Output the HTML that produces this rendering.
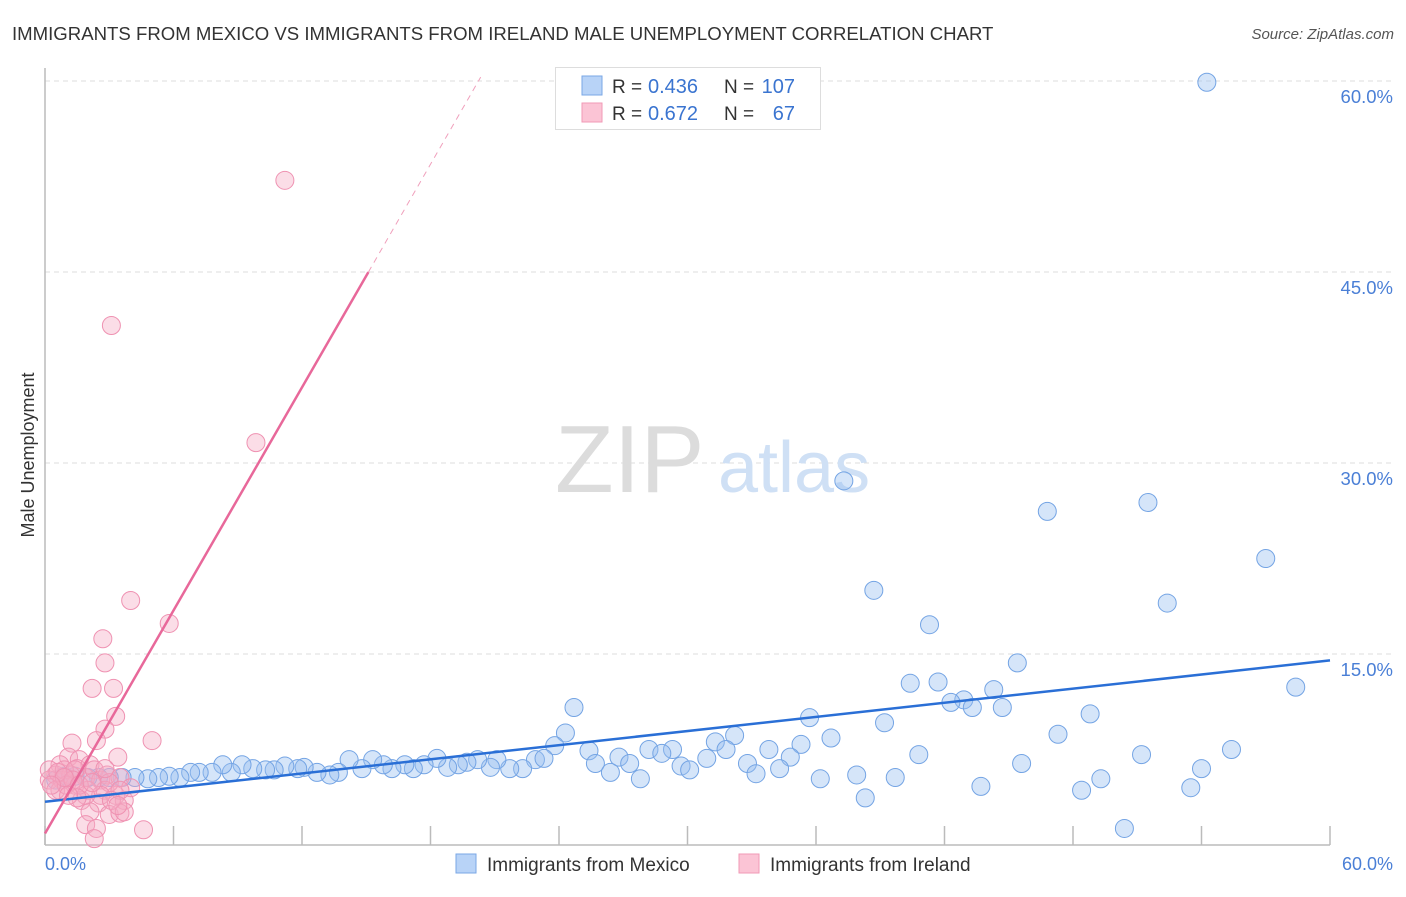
<!DOCTYPE html>
<html><head><meta charset="utf-8"><style>
body{margin:0;background:#fff;font-family:"Liberation Sans",sans-serif}
svg text{font-family:"Liberation Sans",sans-serif}
</style></head><body>
<svg id="c" width="1406" height="892">
<text x="12" y="40" font-size="18.6" fill="#333">IMMIGRANTS FROM MEXICO VS IMMIGRANTS FROM IRELAND MALE UNEMPLOYMENT CORRELATION CHART</text>
<text x="1394" y="39" font-size="15" fill="#555" font-style="italic" text-anchor="end">Source: ZipAtlas.com</text>
<g id="grid"></g>
<text x="555" y="492" font-size="96" fill="#dcdcdc" font-family="Liberation Serif">ZIP</text>
<text x="718" y="492" font-size="72" fill="#cfe0f5">atlas</text>
<g id="axes"></g>
<g id="pts"></g>
<g id="lines"></g>
<text transform="translate(34,455) rotate(-90)" font-size="18" fill="#333" text-anchor="middle">Male Unemployment</text>
<text x="45" y="870" font-size="18" fill="#4a7fd6">0.0%</text>
<text x="1393" y="870" font-size="18" fill="#4a7fd6" text-anchor="end">60.0%</text>
<g>
<rect x="555.5" y="67.5" width="265" height="62" fill="#fff" stroke="#ddd"/>
<rect x="582" y="76" width="20" height="19" fill="#b8d3f7" stroke="#7aa7e6"/>
<rect x="582" y="103" width="20" height="19" fill="#fbc4d5" stroke="#f09ab6"/>
<text x="612" y="93" font-size="19" fill="#333">R =</text>
<text x="648" y="93" font-size="20" fill="#3a74d0">0.436</text>
<text x="724" y="93" font-size="19" fill="#333">N =</text>
<text x="795" y="93" font-size="20" fill="#3a74d0" text-anchor="end">107</text>
<text x="612" y="120" font-size="19" fill="#333">R =</text>
<text x="648" y="120" font-size="20" fill="#3a74d0">0.672</text>
<text x="724" y="120" font-size="19" fill="#333">N =</text>
<text x="795" y="120" font-size="20" fill="#3a74d0" text-anchor="end">67</text>
</g>
<g>
<rect x="456" y="854" width="20" height="19" fill="#b8d3f7" stroke="#7aa7e6"/>
<text x="487" y="871" font-size="19" fill="#333">Immigrants from Mexico</text>
<rect x="739" y="854" width="20" height="19" fill="#fbc4d5" stroke="#f09ab6"/>
<text x="770" y="871" font-size="19" fill="#333">Immigrants from Ireland</text>
</g>
</svg>
<script>
const yTicks=[15,30,45,60];
const yTickLabels=["15.0%","30.0%","45.0%","60.0%"];
const xTicks=[0,6,12,18,24,30,36,42,48,54,60];
const mexicoX=[54.25,37.3,46.8,51.5,57.0,38.7,52.4,41.3,45.4,40.4,41.7,44.3,58.4,42.9,42.3,43.3,44.7,24.7,35.7,48.8,39.2,24.3,36.7,47.3,32.2,31.3,31.8,35.3,33.8,40.8,51.2,55.4,28.2,29.3,28.8,25.4,26.8,23.8,25.7,27.3,29.7,30.9,32.8,34.8,45.6,26.4,27.8,30.1,33.2,34.3,36.2,37.9,39.7,49.3,54.0,43.7,48.4,53.5,38.3,50.4,
22.9,23.3,22.3,21.7,21.1,20.8,20.2,19.7,19.3,18.8,18.3,17.7,17.2,16.8,16.2,15.8,15.3,14.8,14.2,13.7,13.3,12.7,12.1,11.8,11.2,10.7,10.3,9.7,9.2,8.7,8.3,7.8,7.2,6.8,6.3,5.8,5.3,4.8,4.2,3.6,3.0,2.5,2.0,1.4,0.9,0.5];
const mexicoY=[59.9,28.6,26.2,26.9,22.5,20.0,19.0,17.3,14.3,12.7,12.8,12.2,12.4,11.4,11.2,10.8,10.8,10.8,10.0,10.3,9.6,8.8,8.4,8.7,8.6,8.1,7.5,7.9,7.5,7.1,7.1,7.5,7.5,7.5,7.2,7.4,6.9,7.8,6.4,6.4,6.2,6.8,6.4,6.9,6.4,5.7,5.2,5.9,5.6,6.0,5.2,5.5,5.3,5.2,6.0,4.6,4.3,4.5,3.7,1.3,
6.7,6.8,6.0,6.0,6.7,6.1,6.7,6.5,6.3,6.1,6.8,6.3,6.0,6.3,6.0,6.3,6.7,6.0,6.7,5.7,5.5,5.7,6.1,6.0,6.2,5.9,5.9,6.0,6.3,5.7,6.3,5.7,5.7,5.7,5.3,5.4,5.3,5.2,5.3,5.3,5.3,5.3,5.3,5.4,5.4,5.1];
const irelandX=[11.2,3.1,9.85,4.0,5.8,2.7,2.8,2.2,3.2,3.3,2.8,2.4,5.0,1.26,3.4,
1.1,1.6,0.7,1.5,2.1,0.5,0.2,0.8,1.2,1.9,2.3,2.6,2.9,3.5,0.7,1.4,2.0,2.8,3.3,1.7,2.5,3.7,2.1,3.0,1.9,3.5,2.4,3.7,4.6,2.3,0.2,0.5,0.9,1.4,3.0,4.0,2.6,3.5,1.9,1.0,
0.6,1.3,0.9,1.6,2.2,2.8,3.1,1.5,1.1,0.3,3.4];
const irelandY=[52.2,40.8,31.6,19.2,17.4,16.2,14.3,12.3,12.3,10.1,9.1,8.2,8.2,8.0,6.9,
6.9,6.7,6.3,6.0,6.3,5.5,5.1,5.1,5.5,5.3,5.9,5.1,5.5,5.3,4.3,4.7,4.3,4.3,3.9,3.5,3.3,3.5,2.6,2.4,1.6,2.5,1.3,2.6,1.2,0.5,5.9,4.3,5.9,5.9,4.9,4.5,3.9,4.3,3.9,4.7,
5.7,5.1,5.3,4.7,4.9,6.0,3.5,3.7,3.9,4.7,3.1];
const mexicoTrend=[3.4,14.5];
const irelandTrend=[0.9,2.92];
const irelandSolidEnd=15.1;

const NS="http://www.w3.org/2000/svg";
const X0=45,X1=1330,Y0=845,YTOP=81;
const xs=v=>X0+(X1-X0)*v/60;
const ys=v=>Y0-(Y0-YTOP)*v/60;
function mk(t,a,p){const e=document.createElementNS(NS,t);for(const k in a)e.setAttribute(k,a[k]);p.appendChild(e);return e;}
const grid=document.getElementById('grid'),axes=document.getElementById('axes'),pts=document.getElementById('pts'),lines=document.getElementById('lines');
yTicks.forEach((t,i)=>{
 const l=mk('line',{x1:X0,x2:1395,y1:ys(t),y2:ys(t),stroke:'#dedede','stroke-dasharray':'5,4'},grid);
 
 
 const tx=mk('text',{x:1393,y:ys(t)+22,'font-size':18.5,fill:'#4a7fd6','text-anchor':'end'},grid);
 tx.textContent=yTickLabels[i];
 
 
});
const ya=mk('line',{x1:X0,x2:X0,y1:68,y2:Y0,stroke:'#bbb','stroke-width':1.5},axes);


const xa=mk('line',{x1:X0,x2:X1,y1:Y0,y2:Y0,stroke:'#bbb','stroke-width':1.5},axes);


xTicks.forEach(t=>{
 const l=mk('line',{x1:xs(t),x2:xs(t),y1:Y0,y2:Y0-19,stroke:'#bbb','stroke-width':1.5},axes);
 
 
});
mexicoX.forEach((x,i)=>{
 const c=mk('circle',{cx:xs(x),cy:ys(mexicoY[i]),r:9,fill:'rgba(150,190,240,0.4)',stroke:'#74a4e4','stroke-width':1},pts);
 
 
});
irelandX.forEach((x,i)=>{
 const c=mk('circle',{cx:xs(x),cy:ys(irelandY[i]),r:9,fill:'rgba(245,170,195,0.4)',stroke:'#ef92b2','stroke-width':1},pts);
 
 
});
const bl=mk('line',{x1:xs(0),y1:ys(mexicoTrend[0]),x2:xs(60),y2:ys(mexicoTrend[1]),stroke:'#2a6fd6','stroke-width':2.5},lines);


const pe=irelandTrend[0]+irelandTrend[1]*irelandSolidEnd;
const pl=mk('line',{x1:xs(0),y1:ys(irelandTrend[0]),x2:xs(irelandSolidEnd),y2:ys(pe),stroke:'#e8689a','stroke-width':2.5},lines);


const xEnd=(60.3-irelandTrend[0])/irelandTrend[1];
const pd=mk('line',{x1:xs(irelandSolidEnd),y1:ys(pe),x2:xs(xEnd),y2:ys(60.3),stroke:'#f0a0bc','stroke-width':1,'stroke-dasharray':'6,5'},lines);


</script>
</body></html>
